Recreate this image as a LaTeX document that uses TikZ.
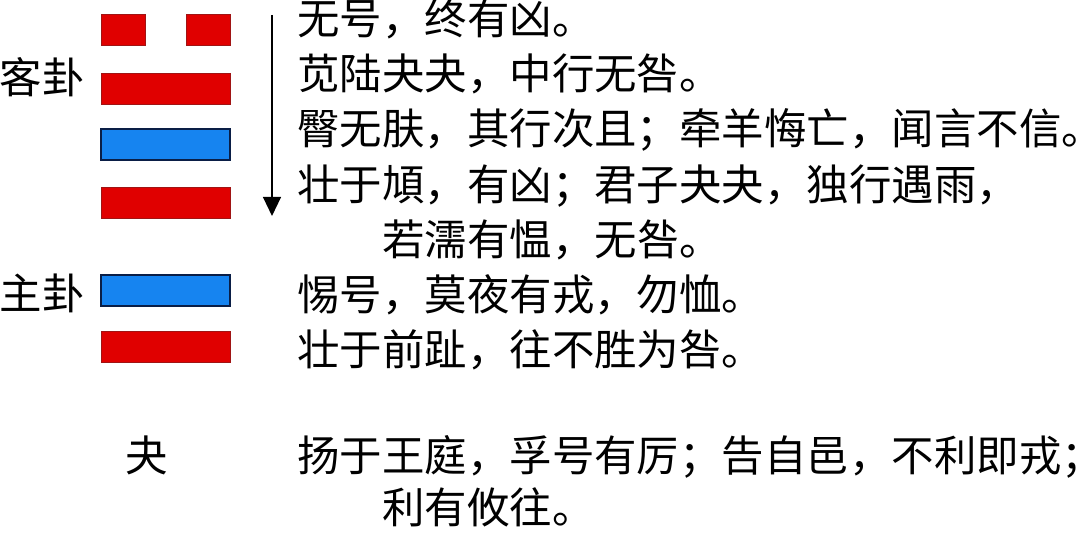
\documentclass[tikz,border=0pt]{standalone}
\usepackage{fontspec}
\newfontfamily\cjk{Noto Sans CJK SC}
\usepackage{tikz}
\usetikzlibrary{positioning,arrows.meta}
\definecolor{barred}{RGB}{224,0,0}
\definecolor{barredline}{RGB}{160,20,20}
\definecolor{barblue}{RGB}{22,132,240}
\definecolor{barblueline}{RGB}{10,30,70}

\begin{document}
\begin{tikzpicture}[
		txt/.style={inner sep=0, text height=0.88em, text depth=0.12em, font=\cjk\fontsize{30.2pt}{31pt}\selectfont},
		line/.style={txt, anchor=west},
		redbar/.style={minimum height=0.775cm, minimum width=3.225cm, inner sep=0, fill=barred, draw=barredline, line width=0.5pt},
		bluebar/.style={minimum height=0.775cm, minimum width=3.225cm, inner sep=0, fill=barblue, draw=barblueline, line width=1.2pt}
	]
		\useasboundingbox (0,0) rectangle (27,-13.55);
		
		% guest trigram
		\node[redbar, minimum width=1.1cm] (y6a) at (3.075,-0.75) {};
		\node[redbar, minimum width=1.1cm] (y6b) at (5.2,-0.75) {};
		\node[redbar] (y5) at (4.1375,-2.2125) {};
		\node[bluebar] (y4) at (4.1375,-3.6125) {};
		\node[redbar] (y3) at (4.1375,-5.0625) {};
		% host trigram
		\node[bluebar] (y2) at (4.1375,-7.2625) {};
		\node[redbar] (y1) at (4.1375,-8.6625) {};
		
		\node[txt] (guest) at (1.05,-2.2) {客卦};
		\node[txt] (host) at (1.05,-7.6) {主卦};
		\node[txt] (name) at (3.675,-11.65) {夬};
		
		\coordinate (atop) at (6.8,-0.375);
		\coordinate (abot) at (6.8,-5.4);
		\draw[-{Triangle[width=0.45cm,length=0.48cm]}, line width=1.3pt] (atop)--(abot);
		
		\node[line] (l6) at (7.425,-0.725) {无号，终有凶。};
		\node[line] (l5) at (7.425,-2.1) {苋陆夬夬，中行无咎。};
		\node[line] (l4) at (7.425,-3.475) {臀无肤，其行次且；牵羊悔亡，闻言不信。};
		\node[line] (l3) at (7.425,-4.875) {壮于頄，有凶；君子夬夬，独行遇雨，};
		\node[line] (l3b) at (9.55,-6.25) {若濡有愠，无咎。};
		\node[line] (l2) at (7.425,-7.625) {惕号，莫夜有戎，勿恤。};
		\node[line] (l1) at (7.425,-9.0) {壮于前趾，往不胜为咎。};
		\node[line] (gua) at (7.425,-11.65) {扬于王庭，孚号有厉；告自邑，不利即戎；};
		\node[line] (guab) at (9.55,-12.95) {利有攸往。};
	\end{tikzpicture}
\end{document}
